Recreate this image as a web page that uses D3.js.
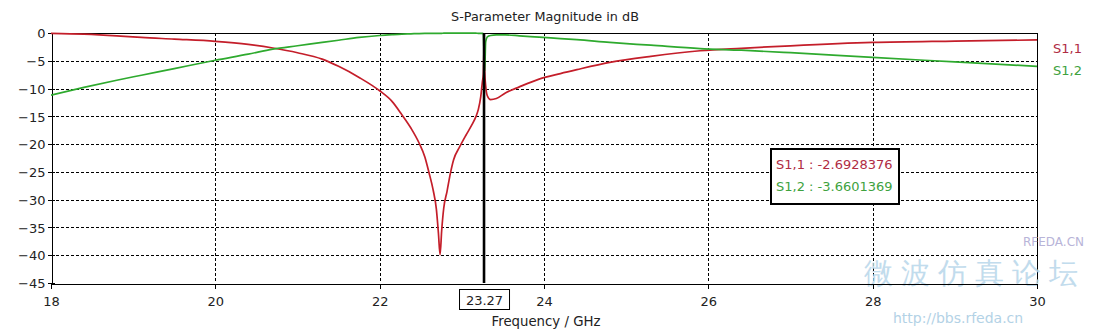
<!DOCTYPE html>
<html>
<head>
<meta charset="utf-8">
<script src="https://cdn.jsdelivr.net/npm/d3@7"></script>
<style>
  html, body { margin: 0; padding: 0; background: #fff; }
  svg { display: block; }
  text { font-family: Tahoma, "DejaVu Sans", sans-serif; }
</style>
</head>
<body>
<svg id="chart" width="1107" height="330"></svg>
<script>
// Frequency samples (GHz) shared by both S-parameter traces
const freq = [
  18.0, 18.4, 18.8, 19.1, 19.5, 20.0, 20.4, 20.7, 21.0, 21.3,
  21.5, 21.75, 22.0, 22.15, 22.27, 22.38, 22.48, 22.55, 22.6, 22.65,
  22.69, 22.715, 22.735, 22.755, 22.78, 22.82, 22.86, 22.9, 22.97, 23.05,
  23.12, 23.17, 23.2, 23.23, 23.25, 23.262, 23.27, 23.278, 23.29, 23.31,
  23.35, 23.42, 23.53, 23.7, 23.94, 24.2, 24.4, 24.8, 25.3, 25.9,
  26.4, 27.0, 28.0, 29.0, 30.0
];

// S1,1 magnitude in dB
const s11 = [
  -0.05, -0.2, -0.5, -0.8, -1.1, -1.5, -2.05, -2.7, -3.55, -4.7,
  -6.0, -8.0, -10.4, -12.3, -14.7, -17.1, -19.8, -22.3, -25.1, -28.2,
  -31.7, -36.0, -39.9, -35.5, -31.5, -28.5, -25.3, -22.8, -20.6, -18.4,
  -16.6, -15.1, -13.8, -11.5, -8.8, -7.4, -2.6928376, -6.9, -9.5, -11.3,
  -12.0, -11.8, -10.8, -9.7, -8.3, -7.3, -6.6, -5.3, -4.2, -3.2,
  -2.75, -2.3, -1.7, -1.45, -1.25
];

// S1,2 magnitude in dB
const s12 = [
  -11.2, -9.8, -8.5, -7.6, -6.4, -4.9, -3.8, -2.9, -2.3, -1.7,
  -1.3, -0.8, -0.45, -0.3, -0.2, -0.15, -0.1, -0.08, -0.07, -0.06,
  -0.05, -0.05, -0.05, -0.05, -0.04, -0.04, -0.03, -0.03, -0.03, -0.03,
  -0.04, -0.04, -0.05, -0.05, -0.08, -0.2, -3.6601369, -6.9, -1.6, -0.7,
  -0.45, -0.35, -0.35, -0.5, -0.75, -1.0, -1.2, -1.7, -2.2, -2.8,
  -3.1, -3.55, -4.4, -5.2, -6.0
];

const seriesNames = ["S1,1", "S1,2"];
const seriesColors = ["#c41e2a", "#2eaa2e"];
const legendColors = ["#b02c44", "#3ea23e"];

const xTicks = [18, 20, 22, 24, 26, 28, 30];
const yTicks = [0, -5, -10, -15, -20, -25, -30, -35, -40, -45];
const markerFreq = 23.27;

const titleText = "S-Parameter Magnitude in dB";
const xLabelText = "Frequency / GHz";

(function draw() {
  const svg = d3.select("#chart");
  const W = 1107, H = 330;
  const pl = 51, pr = 1037, pt = 33, pb = 283;

  svg.append("rect").attr("width", W).attr("height", H).attr("fill", "#fff");

  const x = d3.scaleLinear().domain([18, 30]).range([pl, pr]);
  const y = d3.scaleLinear().domain([-45, 0]).range([pb, pt]);

  // Dashed grid
  const grid = svg.append("g").attr("stroke", "#000").attr("stroke-width", 1)
    .attr("stroke-dasharray", "3,2").attr("shape-rendering", "crispEdges");
  grid.selectAll("line.v").data(xTicks.slice(1)).join("line")
    .attr("x1", d => Math.round(x(d)) + 0.5).attr("x2", d => Math.round(x(d)) + 0.5)
    .attr("y1", pt).attr("y2", pb);
  grid.selectAll("line.h").data(yTicks.slice(1, -1)).join("line")
    .attr("x1", pl).attr("x2", pr)
    .attr("y1", d => Math.round(y(d)) + 0.5).attr("y2", d => Math.round(y(d)) + 0.5);

  // Plot frame (top and right)
  svg.append("path")
    .attr("d", `M${pl},${pt + 0.5}H${pr + 0.5}V${pb}`)
    .attr("fill", "none").attr("stroke", "#000").attr("stroke-width", 1)
    .attr("shape-rendering", "crispEdges");

  // Watermark drawn beneath the axes text
  const wm = svg.append("g").attr("pointer-events", "none");
  wm.append("text").attr("x", 1023).attr("y", 246)
    .attr("font-size", 12).attr("fill", "#b8b4d8").attr("font-family", "Liberation Sans, Arial, sans-serif")
    .text("RFEDA.CN");
  wm.append("text").attr("x", 864).attr("y", 283)
    .attr("font-size", 29).attr("fill", "#b7d6ea").attr("letter-spacing", 8)
    .attr("font-family", "Noto Sans CJK SC, sans-serif").attr("opacity", 0.85)
    .text("微波仿真论坛");
  wm.append("text").attr("x", 893).attr("y", 323)
    .attr("font-size", 14).attr("fill", "#b3d2e6").attr("font-family", "DejaVu Sans Mono, monospace")
    .text("http://bbs.rfeda.cn");

  // Axes
  const xAxis = d3.axisBottom(x).tickValues(xTicks).tickSize(5).tickPadding(8)
    .tickFormat(d3.format("d"));
  const gx = svg.append("g").attr("transform", `translate(0,${pb + 0.5})`).call(xAxis);
  const yAxis = d3.axisLeft(y).tickValues(yTicks).tickSize(4).tickPadding(2)
    .tickFormat(d3.format("d"));
  const gy = svg.append("g").attr("transform", `translate(${pl + 0.5},0)`).call(yAxis);
  [gx, gy].forEach(g => {
    g.select(".domain").attr("stroke", "#000").attr("shape-rendering", "crispEdges");
    g.selectAll(".tick line").attr("stroke", "#000").attr("shape-rendering", "crispEdges");
    g.selectAll(".tick text").attr("fill", "#222").attr("font-size", 13)
      .attr("font-family", 'Tahoma, "DejaVu Sans", sans-serif');
  });
  gy.selectAll(".tick text").attr("dy", "0.36em");
  // short inner tick on the left axis
  gy.selectAll(".tick").append("line").attr("x1", 0).attr("x2", 3)
    .attr("stroke", "#000").attr("shape-rendering", "crispEdges");

  // Curves
  svg.append("clipPath").attr("id", "plotclip")
    .append("rect").attr("x", pl).attr("y", pt - 2).attr("width", pr - pl + 1).attr("height", pb - pt + 3);
  const line = d3.line().curve(d3.curveMonotoneX).x(d => x(d[0])).y(d => y(d[1]));
  const series = [s11, s12];
  const curves = svg.append("g").attr("clip-path", "url(#plotclip)");
  series.forEach((vals, i) => {
    curves.append("path")
      .datum(freq.map((f, k) => [f, vals[k]]))
      .attr("d", line)
      .attr("fill", "none")
      .attr("stroke", seriesColors[i])
      .attr("stroke-width", 1.7)
      .attr("stroke-linejoin", "round");
  });

  // Marker line
  const mx = x(markerFreq);
  svg.append("line").attr("x1", mx).attr("x2", mx).attr("y1", pt).attr("y2", pb)
    .attr("stroke", "#000").attr("stroke-width", 2.6);

  // Marker frequency label box
  const mlab = svg.append("g");
  mlab.append("rect").attr("x", mx - 24.5).attr("y", 289.5).attr("width", 50).attr("height", 20)
    .attr("fill", "#fff").attr("stroke", "#000").attr("stroke-width", 1);
  mlab.append("text").attr("x", mx + 0.5).attr("y", 304.5).attr("text-anchor", "middle")
    .attr("font-size", 13).attr("fill", "#222").text(markerFreq.toFixed(2));

  // Marker readout box
  const mi = freq.indexOf(markerFreq);
  const box = svg.append("g");
  box.append("rect").attr("x", 771).attr("y", 149).attr("width", 128).attr("height", 55)
    .attr("fill", "#fff").attr("stroke", "#000").attr("stroke-width", 2);
  series.forEach((vals, i) => {
    box.append("text").attr("x", 776).attr("y", 169 + i * 22)
      .attr("font-size", 13).attr("fill", legendColors[i])
      .text(`${seriesNames[i]} : ${vals[mi].toFixed(7)}`);
  });

  // Legend
  seriesNames.forEach((n, i) => {
    svg.append("text").attr("x", 1053).attr("y", 53 + i * 22)
      .attr("font-size", 13).attr("fill", legendColors[i]).text(n);
  });

  // Title and axis label
  svg.append("text").attr("x", 545).attr("y", 21).attr("text-anchor", "middle")
    .attr("font-size", 12.8).attr("fill", "#222").text(titleText);
  svg.append("text").attr("x", 546).attr("y", 326).attr("text-anchor", "middle")
    .attr("font-size", 13.3).attr("fill", "#222").text(xLabelText);
})();
</script>
</body>
</html>
